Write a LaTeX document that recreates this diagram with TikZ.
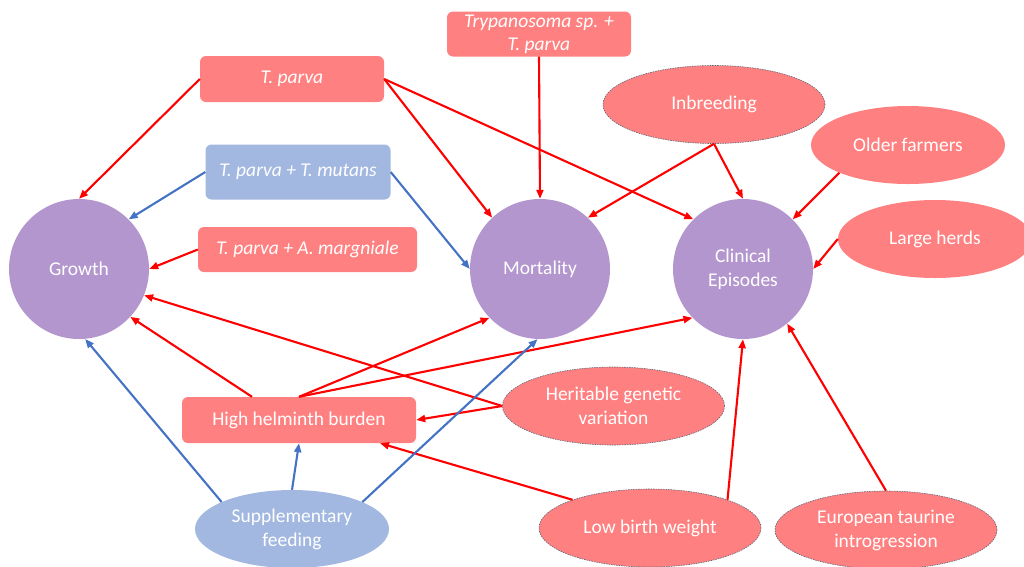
\documentclass[tikz,border=0pt]{standalone}
\usepackage{fontspec}
\setmainfont{Carlito}
\usetikzlibrary{shapes.geometric,arrows.meta}
\definecolor{salmon}{HTML}{FF8080}
\definecolor{purp}{HTML}{B396CE}
\definecolor{lblue}{HTML}{A2B8E0}
\definecolor{redline}{HTML}{FF0000}
\definecolor{blueline}{HTML}{4472C4}
\definecolor{dashgray}{HTML}{5A6678}
\begin{document}
\begin{tikzpicture}[x=1pt,y=-1pt,
  lbl/.style={text=white,font=\fontsize{19.5}{24}\selectfont,align=center},
  circ/.style={circle,fill=purp,minimum size=140pt,inner sep=0pt,lbl},
  rbox/.style={rounded corners=6pt,fill=salmon,inner sep=0pt,lbl,font=\fontsize{19.5}{23}\selectfont\itshape},
  bbox/.style={rbox,fill=lblue},
  ell/.style={ellipse,fill=salmon,minimum width=194pt,minimum height=78pt,inner sep=0pt,lbl},
  dell/.style={ell,minimum width=222pt,draw=dashgray,line width=0.6pt,dash pattern=on 1.5pt off 1pt},
  bell/.style={ell,fill=lblue},
  rarr/.style={draw=redline,line width=2.1pt,-{Triangle[length=9pt,width=7pt]}},
  barr/.style={draw=blueline,line width=2.1pt,-{Triangle[length=9pt,width=7pt]}}
]
\useasboundingbox (0,0) rectangle (1024,566);
\clip (0,0) rectangle (1024,566);
% main circles
\node[circ] (gr) at (79,269) {Growth};
\node[circ] (mo) at (540,269) {Mortality};
\node[circ] (ce) at (743,269) {Clinical\\Episodes};
% boxes
\node[rbox,minimum width=184pt,minimum height=46pt] (tp) at (292,79) {T. parva};
\node[rbox,minimum width=184pt,minimum height=45pt] (ty) at (539,34) {Trypanosoma sp. +\\T. parva};
\node[bbox,minimum width=185pt,minimum height=55pt] (tm) at (298,172) {T. parva + T. mutans};
\node[rbox,minimum width=219pt,minimum height=45pt] (am) at (307.5,249.5) {T. parva + A. margniale};
\node[rbox,minimum width=234pt,minimum height=46pt,font=\fontsize{19.5}{24}\selectfont] (hh) at (299,420) {High helminth burden};
% ellipses
\node[dell] (ib) at (714,104.5) {Inbreeding};
\node[ell] (of) at (908,145) {Older farmers};
\node[ell] (lh) at (935,239) {Large herds};
\node[dell] (hg) at (613.5,406) {Heritable genetic\\variation};
\node[dell] (lb) at (650,528) {Low birth weight};
\node[dell] (et) at (886,530) {European taurine\\introgression};
\node[bell] (sf) at (292,529) {Supplementary\\feeding};
% connectors
\draw[rarr] (tp.west) -- (gr.90);
\draw[rarr] (tp.east) -- (mo.133);
\draw[rarr] (tp.east) -- (ce.135);
\draw[rarr] (ty.south) -- (mo.90);
\draw[barr] (tm.west) -- (gr.45);
\draw[barr] (tm.east) -- (mo.180);
\draw[rarr] (am.west) -- (gr.0);
\draw[rarr] (ib.south) -- (mo.47);
\draw[rarr] (ib.south) -- (ce.90);
\draw[rarr] (of.202) -- (ce.45);
\draw[rarr] (lh.west) -- (ce.0);
\draw[rarr] (hg.west) -- (gr.338);
\draw[rarr] (hg.west) -- (hh.east);
\draw[rarr] ([xshift=-47pt]hh.north) -- (gr.317);
\draw[rarr] (hh.north) -- (mo.224);
\draw[rarr] (hh.north) -- (ce.224);
\draw[rarr] (lb.160) -- ([xshift=81pt]hh.south);
\draw[rarr] (lb.20) -- (ce.270);
\draw[rarr] (et.north) -- (ce.309);
\draw[barr] (sf.159) -- (gr.275);
\draw[barr] (sf.north) -- (hh.south);
\draw[barr] (sf.21) -- (mo.268);
\end{tikzpicture}
\end{document}
